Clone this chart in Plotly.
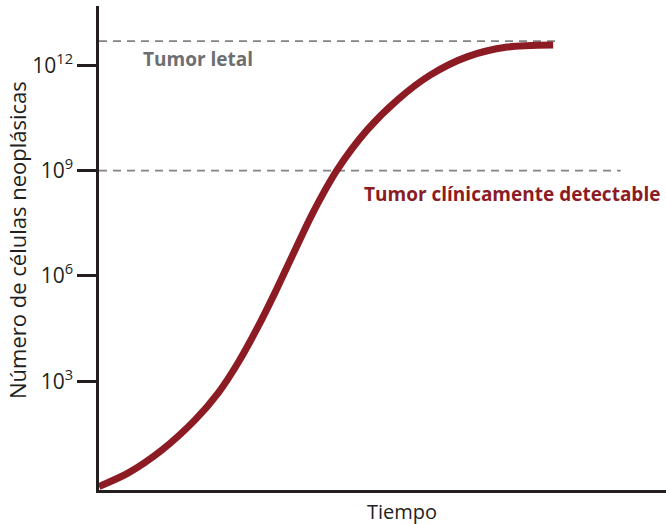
import plotly.graph_objects as go

# Tumour growth curve (Gompertz-like), time in arbitrary units,
# cell count expressed as log10 exponents
time_units = [0, 5.1, 11.1, 16.9, 21.0, 24.5, 28.0, 31.0, 34.0, 37.7,
              42.0, 47.3, 52.6, 58.4, 64.9, 72.0, 80.1]
log_cells = [0.0, 0.38, 1.04, 1.89, 2.66, 3.52, 4.54, 5.51, 6.54, 7.79,
             9.02, 10.16, 11.01, 11.72, 12.24, 12.52, 12.58]

# Reference thresholds (log10 of cell count) and their extent in time
lethal_log = 12.69
lethal_end = 80.5
detect_log = 9.0
detect_end = 92.0

tick_exponents = [3, 6, 9, 12]
tick_labels = [f"10<sup>{e}</sup>" for e in tick_exponents]

RED = "#8c1b24"
GREY = "#838383"
INK = "#231f20"
FONT = "Open Sans"

cells = [10 ** v for v in log_cells]

fig = go.Figure()

# dashed threshold lines
fig.add_trace(go.Scatter(
    x=[0, lethal_end], y=[10 ** lethal_log] * 2, mode="lines",
    line=dict(color=GREY, width=1.6, dash="8px,6px"), hoverinfo="skip",
    showlegend=False))
fig.add_trace(go.Scatter(
    x=[0, detect_end], y=[10 ** detect_log] * 2, mode="lines",
    line=dict(color=GREY, width=1.6, dash="8px,6px"), hoverinfo="skip",
    showlegend=False))

# growth curve
fig.add_trace(go.Scatter(
    x=time_units, y=cells, mode="lines",
    line=dict(color=RED, width=7, shape="spline", smoothing=0.8),
    showlegend=False))

fig.update_layout(
    width=666, height=524,
    margin=dict(l=99, r=0, t=6, b=34),
    paper_bgcolor="white", plot_bgcolor="white",
    font=dict(family=FONT, color=INK),
    xaxis=dict(range=[0, 100], showgrid=False, zeroline=False,
               showticklabels=False, ticks="", showline=True,
               linecolor=INK, linewidth=2.5, fixedrange=True),
    yaxis=dict(type="log", range=[-0.1, 13.69], showgrid=False,
               zeroline=False, showline=True, linecolor=INK, linewidth=2.5,
               ticks="outside", ticklen=19, tickwidth=2.5, tickcolor=INK,
               tickvals=[10 ** e for e in tick_exponents],
               ticktext=tick_labels,
               tickfont=dict(family=FONT, size=21, color=INK),
               fixedrange=True),
    annotations=[
        dict(text="Tumor letal", xref="paper", yref="paper",
             x=(141 - 99) / 567, y=(490 - 59) / 484, xanchor="left",
             yanchor="middle", showarrow=False,
             font=dict(family=FONT, size=19, color="#6d6e71", weight="bold")),
        dict(text="Tumor clínicamente detectable", xref="paper", yref="paper",
             x=(362 - 99) / 567, y=(490 - 194) / 484, xanchor="left",
             yanchor="middle", showarrow=False,
             font=dict(family=FONT, size=19, color=RED, weight="bold")),
        dict(text="Tiempo", xref="paper", yref="paper",
             x=(402 - 99) / 567, y=(490 - 511) / 484, xanchor="center",
             yanchor="middle", showarrow=False,
             font=dict(family=FONT, size=20, color=INK)),
        dict(text="Número de células neoplásicas", xref="paper", yref="paper",
             x=(17 - 99) / 567, y=(490 - 240) / 484, xanchor="center",
             yanchor="middle", showarrow=False, textangle=-90,
             font=dict(family=FONT, size=22, color=INK)),
    ],
)

fig.write_html("out.html")
